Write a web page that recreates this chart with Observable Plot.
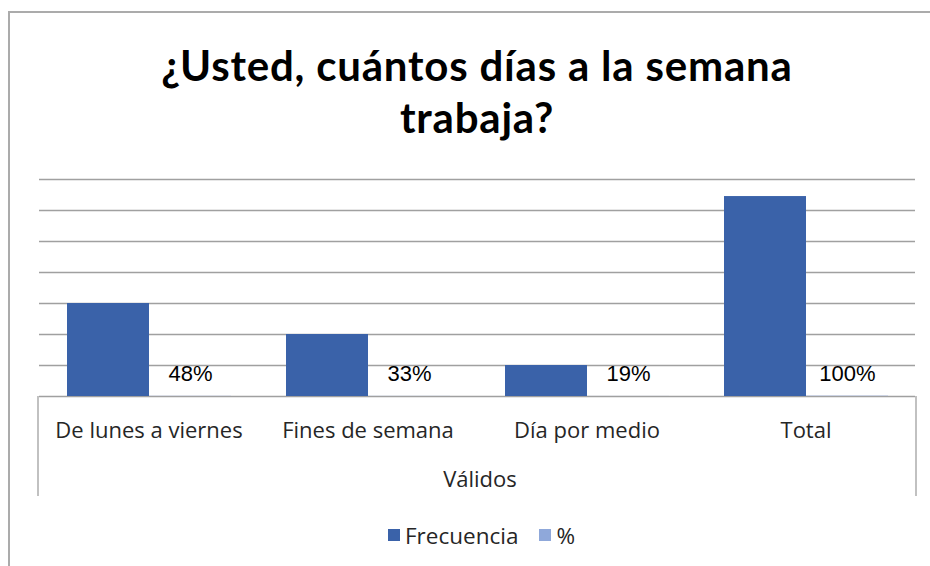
<!DOCTYPE html>
<html><head><meta charset="utf-8">
<script src="https://cdn.jsdelivr.net/npm/d3@7"></script>
<script src="https://cdn.jsdelivr.net/npm/@observablehq/plot@0.6"></script>
<style>
body{margin:0;background:#fff;}
#wrap{position:relative;width:930px;height:566px;overflow:hidden;background:#fff;font-family:"Open Sans",sans-serif;}
#frame{position:absolute;left:8px;top:11px;width:1000px;height:700px;border-left:2px solid #ababab;border-top:2px solid #ababab;}
#title{position:absolute;left:0;width:954px;top:39px;text-align:center;font-family:Lato,sans-serif;font-weight:700;font-size:42px;letter-spacing:0.8px;line-height:52px;color:#000;}
#chart{position:absolute;left:0;top:160px;}
#legend{position:absolute;top:520px;left:388px;height:30px;display:flex;align-items:center;font-size:22.5px;color:#262626;font-family:"Open Sans",sans-serif;}
.sw{display:inline-block;width:12px;height:12px;margin-right:5px;}
</style></head>
<body>
<div id="wrap">
  <div id="frame"></div>
  <div id="title">¿Usted, cuántos días a la semana<br>trabaja?</div>
  <div id="chart"></div>
  <div id="legend"></div>
</div>
<script>
const categorias = ["De lunes a viernes", "Fines de semana", "Día por medio", "Total"];
const series = ["Frecuencia", "%"];
const frecuencia = [300, 200, 100, 645];
const porcentaje = [0.48, 0.33, 0.19, 1.00];
const etiquetas = ["48%", "33%", "19%", "100%"];
const gridTicks = [0, 100, 200, 300, 400, 500, 600, 700];
const colores = ["#3A62A9", "#8FA8DA"];
const grupo = "Válidos";

const rows = categorias.flatMap((c, i) => [
  {cat: c, serie: series[0], valor: frecuencia[i]},
  {cat: c, serie: series[1], valor: porcentaje[i], label: etiquetas[i]}
]);

const plot = Plot.plot({
  width: 930, height: 346,
  marginTop: 19, marginBottom: 110, marginLeft: 38, marginRight: 14,
  style: {fontFamily: "Open Sans, sans-serif", fontSize: "22px", color: "#262626", background: "transparent"},
  fx: {domain: categorias, padding: 0, label: null, axis: "bottom", tickSize: 0, tickPadding: 26},
  x: {domain: series, paddingInner: 0, paddingOuter: 0.322, axis: null},
  y: {domain: [0, 700], axis: null},
  color: {domain: series, range: colores},
  marks: [
    Plot.ruleY(gridTicks, {stroke: "#a0a0a0", strokeWidth: 1.3}),
    Plot.barY(rows, {fx: "cat", x: "serie", y: "valor", fill: "serie"}),
    Plot.text(rows.filter(d => d.serie === "%"), {fx: "cat", x: "serie", y: "valor", text: "label", dy: -22, fontFamily: "Liberation Sans, Arial, sans-serif", fontSize: 22, fill: "#000"})
  ]
});
document.getElementById("chart").appendChild(plot);

// category group box below the axis
const svg = d3.select(plot);
const y0 = plot.scale("y").apply(0);
const [xl, xr] = [38, 930 - 14];
const g = svg.append("g").attr("stroke", "#a0a0a0").attr("stroke-width", 1.3);
g.append("line").attr("x1", xl).attr("x2", xl).attr("y1", y0).attr("y2", y0 + 100);
g.append("line").attr("x1", xr).attr("x2", xr).attr("y1", y0).attr("y2", y0 + 100);
svg.append("text").attr("x", (xl + xr) / 2 + 3).attr("y", y0 + 84).attr("dy", "0.32em")
  .attr("text-anchor", "middle").attr("font-size", 22).attr("fill", "#262626").text(grupo);

// legend
const leg = d3.select("#legend");
series.forEach((s, i) => {
  const item = leg.append("span").style("display", "inline-flex").style("align-items", "center").style("margin-right", i === 0 ? "21px" : "0");
  item.append("span").attr("class", "sw").style("background", colores[i]);
  item.append("span").text(s);
});
</script>
</body></html>
